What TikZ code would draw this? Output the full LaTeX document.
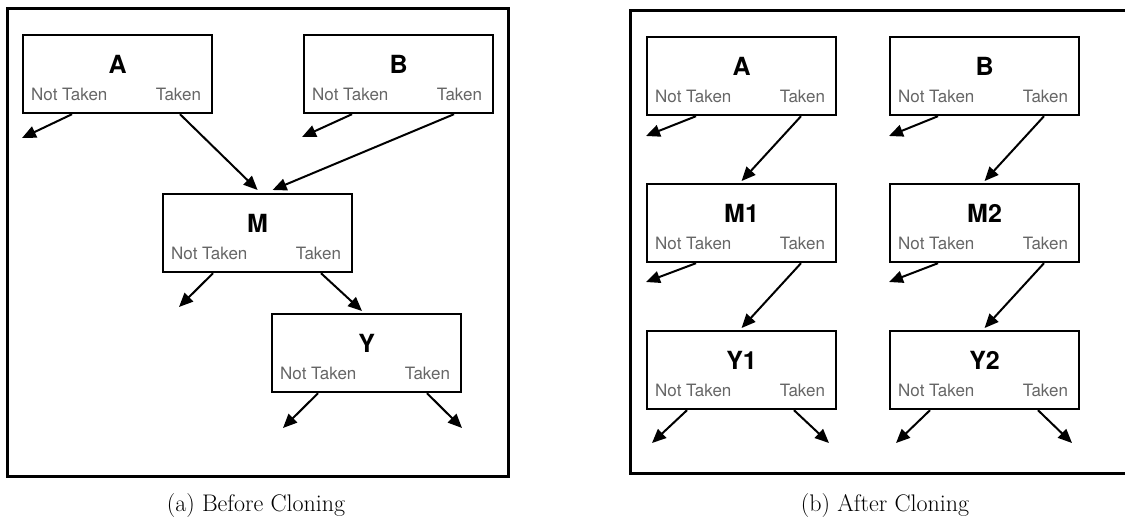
\documentclass[tikz,border=0pt]{standalone}
\usepackage{fontspec}
\setsansfont{TeX Gyre Heros}
\usetikzlibrary{arrows.meta,calc}
\definecolor{labgray}{RGB}{102,102,102}
\tikzset{
  frame/.style={draw=black, line width=3pt},
  blkbox/.style={draw=black, line width=2.2pt, fill=white, anchor=north west,
    minimum width=189pt, minimum height=78pt, inner sep=0pt},
  blktitle/.style={anchor=base, inner sep=0pt, font=\sffamily\bfseries\fontsize{25}{30}\selectfont},
  blklab/.style={inner sep=0pt, text=labgray, font=\sffamily\fontsize{17}{20}\selectfont},
  edge/.style={draw=black, line width=2pt, -{Triangle[length=14pt,width=12pt]}},
  captext/.style={anchor=base, inner sep=0pt, font=\fontsize{24}{28}\selectfont}
}
% one branch block: name, x, y, title
\newcommand\blk[4]{%
  \node[blkbox] (#1) at (#2,#3) {};
  \node[blktitle] (#1-t) at ($(#1.north)+(0,39)$) {#4};
  \node[blklab, anchor=base west] (#1-nt) at ($(#1.north west)+(9,66)$) {Not Taken};
  \node[blklab, anchor=base east] (#1-tk) at ($(#1.north east)+(-12,66)$) {Taken};
}
\begin{document}
\begin{tikzpicture}[x=1pt, y=-1pt]
\useasboundingbox (0,0) rectangle (1125,520);

% ---------- before cloning ----------
\draw[frame] (7,8) rectangle (508,476);
\blk{A}{22}{34}{A}
\blk{B}{303}{34}{B}
\blk{M}{162}{193}{M}
\blk{Y}{271}{313}{Y}

\coordinate (a-nt) at (22,138);
\coordinate (b-nt) at (302,137);
\coordinate (m-nt) at (179,307);
\coordinate (y-nt) at (283,428);
\coordinate (y-tk) at (462,428);

\draw[edge] ($(A.south west)+(50,0)$) -- (a-nt);
\draw[edge] ($(A.south west)+(158,0)$) -- ($(M.north)+(0,-3)$);
\draw[edge] ($(B.south west)+(49,0)$) -- (b-nt);
\draw[edge] ($(B.south west)+(151,0)$) -- ($(M.north)+(15,-3)$);
\draw[edge] ($(M.south west)+(51,0)$) -- (m-nt);
\draw[edge] ($(M.south west)+(159,0)$) -- ($(Y.north west)+(91,-2)$);
\draw[edge] ($(Y.south west)+(47,0)$) -- (y-nt);
\draw[edge] ($(Y.south west)+(156,0)$) -- (y-tk);

\node[captext] (capa) at (256,511) {(a) Before Cloning};

% ---------- after cloning ----------
\draw[frame] (1135,10) -- (630,10) -- (630,473) -- (1135,473);
\blk{A2}{646}{36}{A}
\blk{B2}{889}{36}{B}
\blk{M1}{646}{183}{M1}
\blk{M2}{889}{183}{M2}
\blk{Y1}{646}{330}{Y1}
\blk{Y2}{889}{330}{Y2}

\coordinate (a2-nt) at (646,136);
\coordinate (b2-nt) at (889,136);
\coordinate (m1-nt) at (646,282);
\coordinate (m2-nt) at (889,282);
\coordinate (y1-nt) at (652,443);
\coordinate (y1-tk) at (829,443);
\coordinate (y2-nt) at (896,443);
\coordinate (y2-tk) at (1072,443);

\draw[edge] ($(A2.south west)+(50,0)$) -- (a2-nt);
\draw[edge] ($(A2.south west)+(155,0)$) -- ($(M1.north)+(0,-2)$);
\draw[edge] ($(B2.south west)+(49,0)$) -- (b2-nt);
\draw[edge] ($(B2.south west)+(155,0)$) -- ($(M2.north)+(0,-2)$);
\draw[edge] ($(M1.south west)+(50,0)$) -- (m1-nt);
\draw[edge] ($(M1.south west)+(155,0)$) -- ($(Y1.north)+(0,-2)$);
\draw[edge] ($(M2.south west)+(49,0)$) -- (m2-nt);
\draw[edge] ($(M2.south west)+(155,0)$) -- ($(Y2.north)+(0,-2)$);
\draw[edge] ($(Y1.south west)+(41,0)$) -- (y1-nt);
\draw[edge] ($(Y1.south west)+(148,0)$) -- (y1-tk);
\draw[edge] ($(Y2.south west)+(41,0)$) -- (y2-nt);
\draw[edge] ($(Y2.south west)+(149,0)$) -- (y2-tk);

\node[captext] (capb) at (885,511) {(b) After Cloning};
\end{tikzpicture}
\end{document}
